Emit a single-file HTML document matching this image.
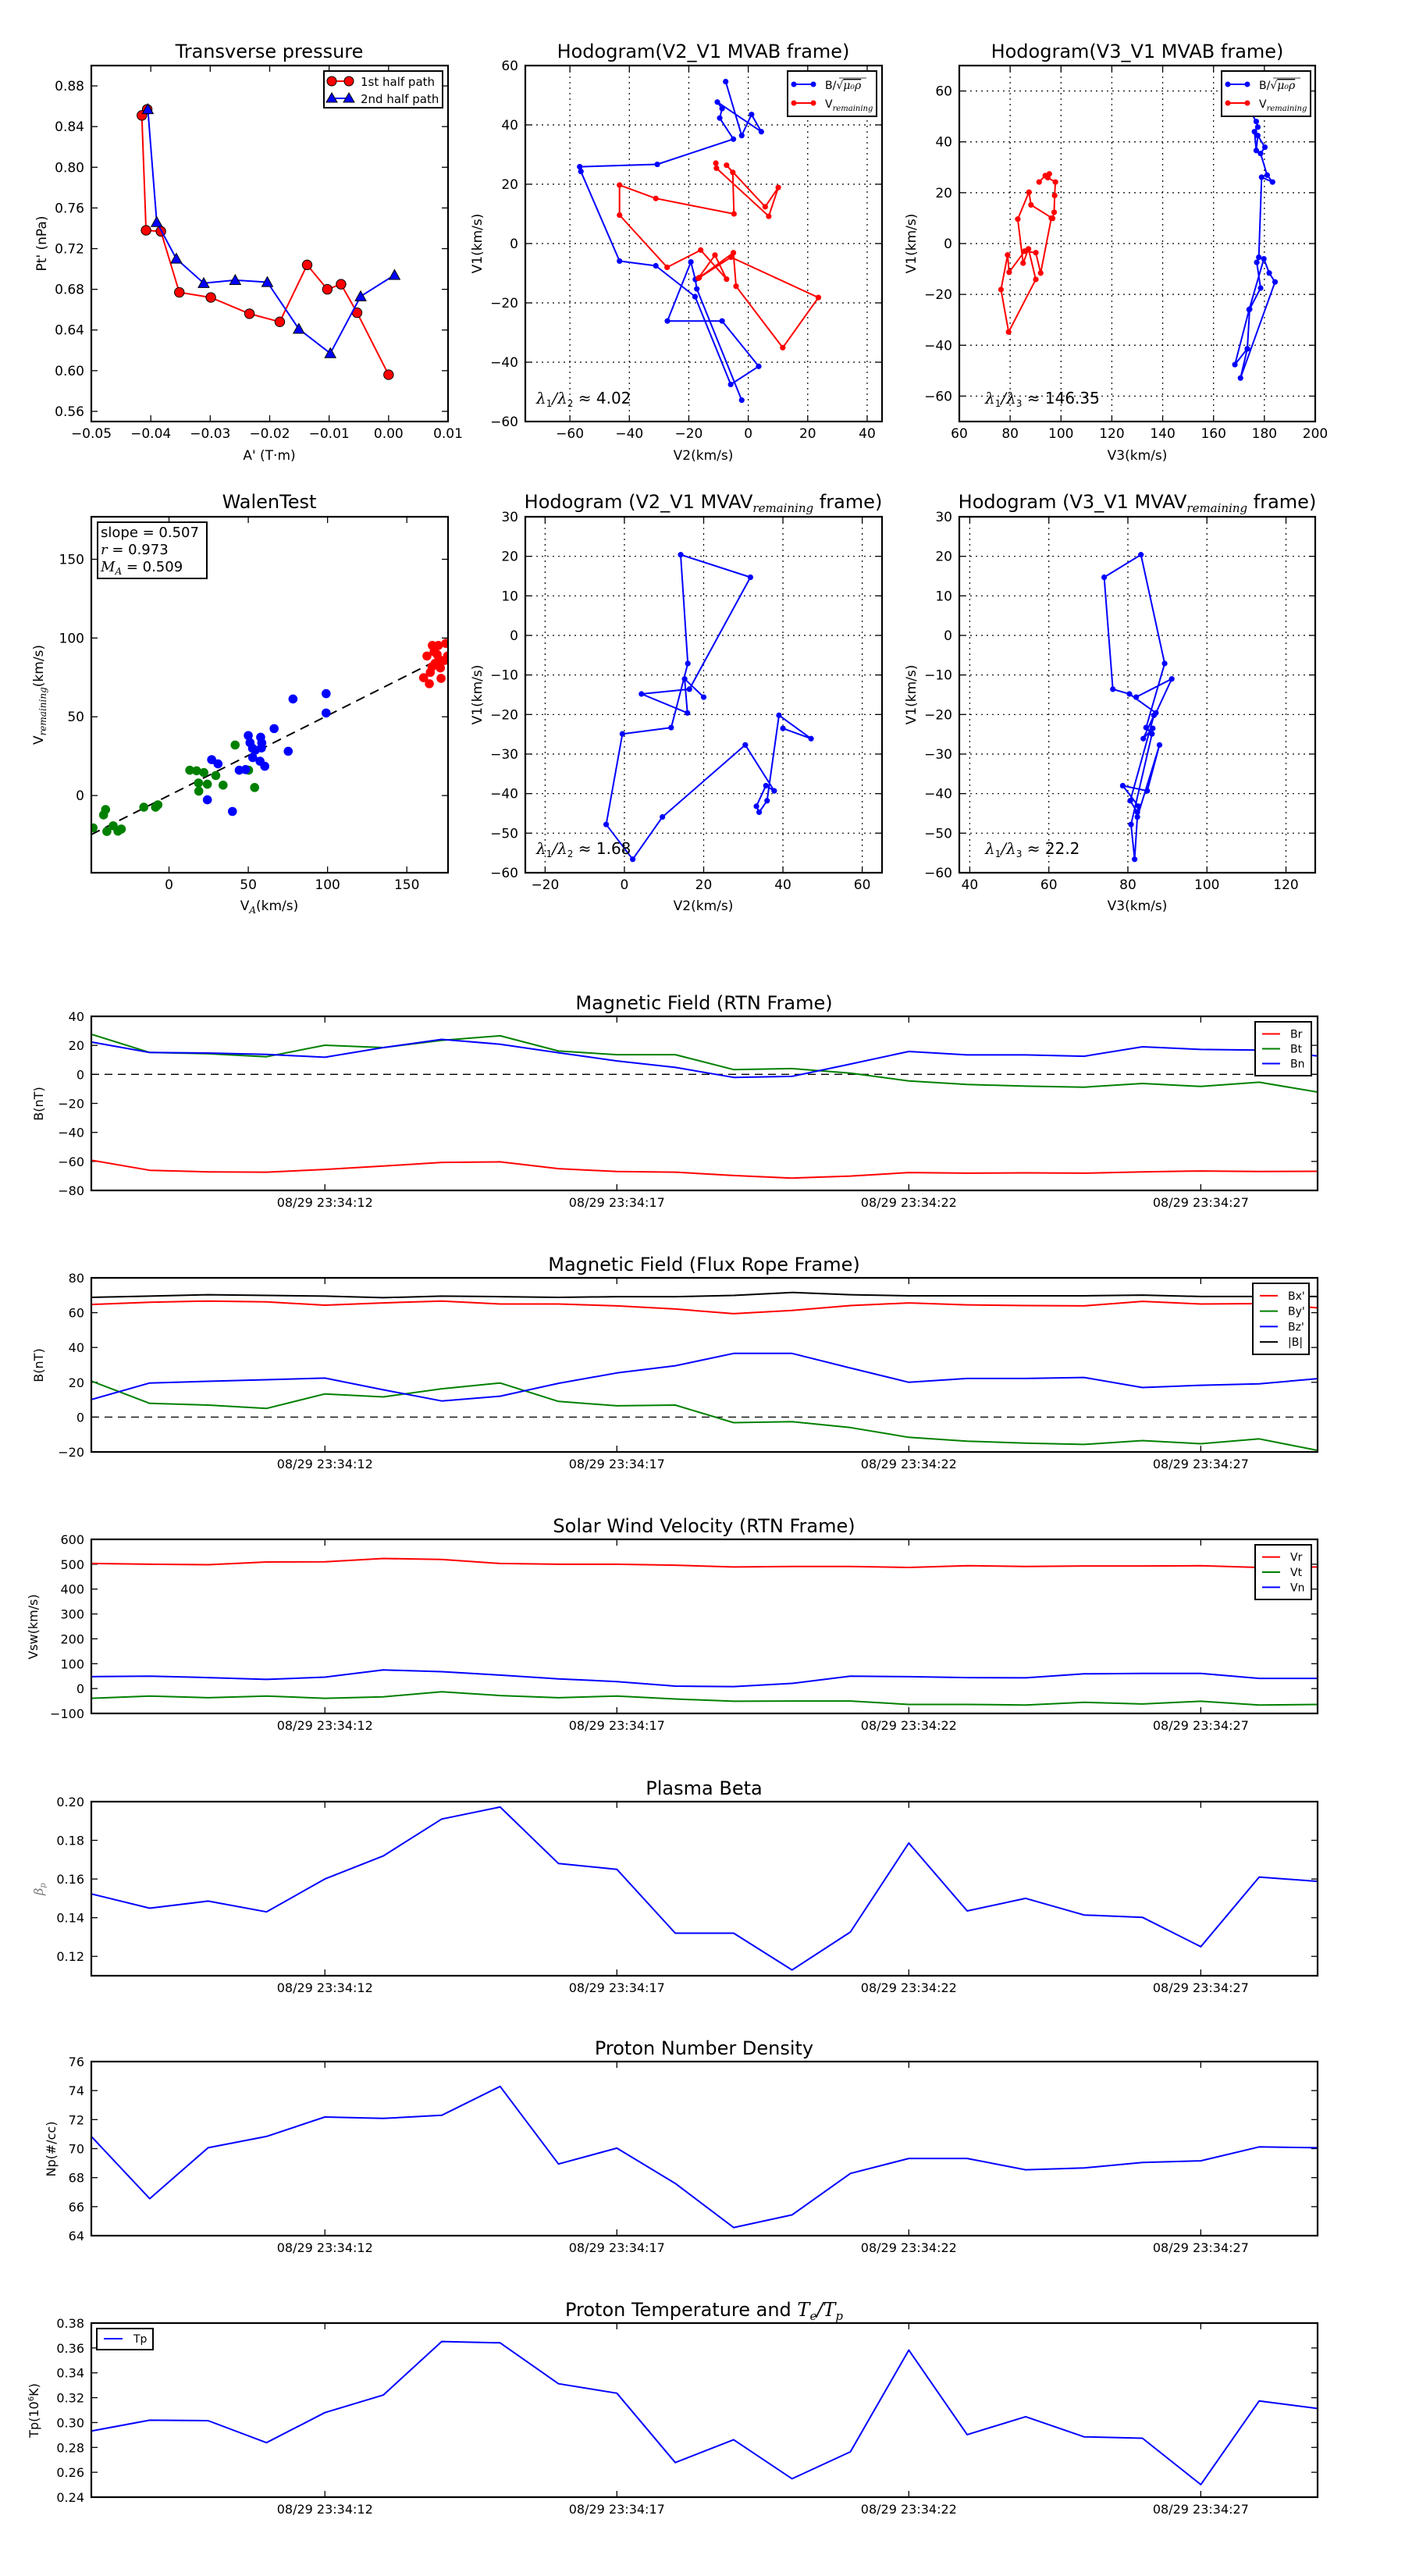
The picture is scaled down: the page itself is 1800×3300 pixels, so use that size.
<!DOCTYPE html>
<html><head><meta charset="utf-8"><title>Flux rope analysis</title>
<style>
html,body{margin:0;padding:0;background:#fff;}
svg{display:block;font-family:"DejaVu Sans","Liberation Sans",sans-serif;}
.m{font-family:"DejaVu Serif","Liberation Serif",serif;font-style:italic;}
</style></head>
<body>
<svg id="fig" xmlns="http://www.w3.org/2000/svg" width="1800" height="3300" viewBox="0 0 1800 3300">
<rect x="0" y="0" width="1800" height="3300" fill="#fff"/>
</svg>
<script>
// ---------- Transverse pressure ----------
const tp1A = [-0.0406,-0.0415,-0.0408,-0.0383,-0.0352,-0.0299,-0.0234,-0.0183,-0.0137,-0.0103,-0.0080,-0.0053,0.0000];
const tp1P = [0.857,0.851,0.738,0.737,0.677,0.672,0.656,0.648,0.704,0.680,0.685,0.657,0.596];
const tp2A = [-0.0405,-0.0390,-0.0357,-0.0311,-0.0258,-0.0204,-0.0151,-0.0098,-0.0047,0.0010];
const tp2P = [0.857,0.746,0.710,0.686,0.689,0.687,0.641,0.617,0.673,0.694];
// ---------- Hodogram V2_V1 MVAB ----------
const hbV2 = [-7.6,-2.2,1.1,4.4,-10.4,-8.8,-9.6,-5,-30.6,-56.7,-56.3,-43.3,-31.1,-17.9,-5.9,3.5,-8.8,-27.2,-19.3,-17.8,-17.3,-2.2];
const hbV1 = [54.6,36.4,43.5,37.7,47.7,45.5,42.3,35.2,26.7,25.9,24.3,-5.9,-7.5,-17.9,-47.5,-41.4,-26.1,-26.1,-6.2,-12.1,-15.3,-52.8];
const hvV2 = [-10.9,-10.7,6.9,10.1,5.7,-7.3,-5.2,-4.8,-31.1,-43.3,-43.3,-27.3,-16,-7.3,-11.2,-16.8,-5.8,23.6,11.6,-4.1,-5,-16.5];
const hvV1 = [27.1,25.4,9.2,18.9,12.4,26.4,24,10,15.2,19.7,9.6,-8,-2.2,-12,-3.9,-11.7,-4.6,-18.2,-35.1,-14.4,-3.1,-11.5];
// ---------- Hodogram V3_V1 MVAB ----------
const hb3V3 = [171,176.8,177.4,176.1,176.8,177.4,180.2,178.5,181.1,183.2,178.9,177.8,177,178.5,174.2,173.3,170.6,184.2,181.9,179.8,174,168.4,173.3];
const hb3V1 = [58,48,45.8,44,36.6,42.5,37.9,35.4,26.9,24.2,26.1,-5.4,-7.4,-17.5,-25.8,-41.4,-52.9,-15.1,-11.6,-6,-26,-47.6,-41.4];
const hv3V3 = [91.4,93.8,95.4,94.8,97.8,97.5,97.3,96.7,88.2,87.4,83,85.1,87.2,90.1,79.4,76.4,79,79.6,85.7,90.1,92,96.2];
const hv3V1 = [24.2,26.7,27.4,25.9,24.2,18.9,12.3,9.9,15.2,20.2,9.6,-7.7,-2.1,-14.1,-34.8,-18.1,-4.5,-11.3,-3,-3.6,-11.6,10];
// ---------- Walen test ----------
const walGreenVA = [-47.9,-41.3,-40,-39.2,-35.2,-32.2,-30.1,-15.9,-8.5,-7,13.1,17.4,22,18.6,18.8,24.2,29.5,34.1,41.7,50.2,54];
const walGreenVR = [-20.5,-12.3,-8.9,-22.8,-19.2,-22.6,-21.3,-7.4,-7.4,-5.9,16.1,15.7,14.6,8,2.8,7.2,12.7,6.6,32.1,16.1,5.1];
const walBlueVA = [24.2,26.9,30.9,40,44.3,48.3,50,51.1,52.7,52.8,54.4,57.8,58.5,58.3,57.4,60.4,66.3,75.2,78.2,99.1,99.1];
const walBlueVR = [-2.7,22.8,20.1,-10.1,16.1,16.5,38.1,33.6,30,24.1,28.8,37,33.4,30.2,21.8,18.6,42.5,28.1,61.3,64.7,52.4];
const walRedVA = [160.6,164.2,162.7,166.1,169.9,174.6,164.8,167.8,171.2,171.6,169.1,173.9,167.2,170.3,165.9,175.7];
const walRedVR = [74.8,71,88.6,95.3,95.3,96.6,78.2,83.9,81,74.4,89.6,85.8,91.3,86.5,81.8,88.6];
const walSlope = [0.507];
const walStats = ["slope = 0.507","0.973","0.509"];
// ---------- MVAV hodograms ----------
const mvV1 = [-15.6,-11,-19.6,-14.8,-13.6,14.7,20.4,-7.1,-23.3,-24.9,-47.8,-56.6,-45.9,-27.7,-39.3,-38,-43.2,-44.7,-41.8,-20.2,-26.1,-23.5];
const mvV2 = [20,15.2,15.9,4.3,16.4,31.8,14.2,16,11.8,-0.5,-4.6,2.1,9.6,30.5,37.8,35.7,33.3,34,36,39,47.1,40];
const mvV3 = [82.1,91.1,87.1,80.4,76.2,74,83.3,89.3,84.6,86.1,80.8,81.7,82.4,88,84.9,78.7,82.7,82.4,80.6,86.6,83.9,86.3];
const ratios = ["4.02","146.35","1.68","22.2"];
// ---------- Time series (seconds after 23:34:00) ----------
const timeSec = [8,9,10,11,12,13,14,15,16,17,18,19,20,21,22,23,24,25,26,27,28,29];
const timeTickSec = [12,17,22,27];
const timeTickLabels = ["08/29 23:34:12","08/29 23:34:17","08/29 23:34:22","08/29 23:34:27"];
const Br = [-59.2,-66.1,-67.2,-67.4,-65.5,-63.2,-60.7,-60.3,-65,-67,-67.4,-69.7,-71.5,-70.1,-67.7,-68.1,-67.9,-68.1,-67.2,-66.6,-67,-66.8];
const Bt = [27.7,15.1,14.2,12.2,20.1,18.5,23.4,26.6,16.1,13.6,13.6,3.3,4,0.8,-4.5,-7,-8.1,-8.8,-6.3,-8.3,-5.4,-12.2];
const Bn = [22.3,15.1,14.7,13.8,11.8,18.5,24.1,20.8,14.9,9.3,4.8,-2.1,-1.4,7.1,15.8,13.4,13.4,12.5,19,17.2,16.7,12.7];
const Bx1 = [64.7,66,66.7,66.2,64.3,65.6,66.7,65,65,63.9,62.1,59.4,61.3,64.1,65.6,64.5,64.1,63.9,66.5,65,65.2,62.8];
const By1 = [20.7,7.9,6.9,5,13.3,11.6,16.3,19.6,9,6.5,6.9,-3.2,-2.6,-6,-11.6,-13.8,-15,-15.7,-13.5,-15.3,-12.5,-19.1];
const Bz1 = [10.1,19.6,20.6,21.5,22.4,15.7,9.3,12,19.4,25.4,29.5,36.6,36.6,28.2,20,22.2,22.2,22.8,17,18.3,19.1,22.1];
const Bmag = [68.8,69.5,70.3,69.9,69.5,68.6,69.5,69.2,68.8,69.2,69.2,69.9,71.6,70.3,69.7,69.7,69.7,69.7,70.1,69.3,69.3,69.3];
const Vr = [503,500,498,509,510,523,519,503,500,500,496,489,491,491,487,494,491,493,493,494,487,489];
const Vt = [-39,-30,-37,-30,-39,-33,-13,-28,-37,-30,-42,-51,-50,-50,-64,-64,-66,-55,-62,-51,-66,-64];
const Vn = [48,50,44,37,46,75,68,54,39,28,10,8,21,50,48,44,43,59,61,61,41,41];
const betaP = [0.1523,0.1449,0.1486,0.143,0.160,0.1719,0.191,0.1972,0.168,0.165,0.132,0.132,0.113,0.1326,0.1786,0.1435,0.150,0.1414,0.1402,0.125,0.161,0.1588];
const Np = [70.84,66.55,70.06,70.84,72.18,72.08,72.3,74.29,68.94,70.03,67.6,64.56,65.43,68.29,69.32,69.32,68.54,68.67,69.04,69.16,70.12,70.06];
const Tp = [0.2932,0.3019,0.3015,0.2838,0.308,0.3221,0.3652,0.3641,0.3312,0.3236,0.2678,0.2862,0.2548,0.2765,0.3583,0.2903,0.3047,0.2885,0.2874,0.2501,0.3174,0.3113];

const NS = "http://www.w3.org/2000/svg";
const fig = document.getElementById('fig');
let clipId = 0;
function mk(tag, parent, o){
  const e = document.createElementNS(NS, tag);
  for (const k in o) e.setAttribute(k, o[k]);
  parent.appendChild(e);
  return e;
}
function txt(parent, x, y, s, size, anchor, name){
  const t = mk('text', parent, {x:x, y:y, 'font-size':size, 'text-anchor':anchor||'middle', fill:'#000'});
  t.textContent = s;
  
  
  return t;
}
function fmtNum(v, d){ const s = Math.abs(v).toFixed(d); return (v < -1e-12 ? '\u2212' : '') + s; }

function makeAxes(c){
  const g = mk('g', fig, {});
  
  
  const sx = v => c.x + (v - c.xmin) / (c.xmax - c.xmin) * c.w;
  const sy = v => c.y + c.h - (v - c.ymin) / (c.ymax - c.ymin) * c.h;
  const fs = c.fs || 17;
  if (c.grid) {
    const gg = mk('g', g, {stroke:'#000','stroke-width':1.2,'stroke-dasharray':'2,5'});
    
    
    c.xticks.forEach(v => mk('line', gg, {x1:sx(v), x2:sx(v), y1:c.y, y2:c.y+c.h}));
    c.yticks.forEach(v => mk('line', gg, {y1:sy(v), y2:sy(v), x1:c.x, x2:c.x+c.w}));
  }
  const tg = mk('g', g, {stroke:'#000','stroke-width':1.3});
  
  
  c.xticks.forEach((v, i) => {
    const X = sx(v);
    mk('line', tg, {x1:X, x2:X, y1:c.y+c.h, y2:c.y+c.h-8});
    mk('line', tg, {x1:X, x2:X, y1:c.y, y2:c.y+8});
    const lab = c.xlabels ? c.xlabels[i] : fmtNum(v, c.xdec||0);
    txt(g, X, c.y + c.h + 21, lab, c.tfs || fs, 'middle', 'x-tick-label');
  });
  c.yticks.forEach(v => {
    const Y = sy(v);
    mk('line', tg, {y1:Y, y2:Y, x1:c.x, x2:c.x+8});
    mk('line', tg, {y1:Y, y2:Y, x1:c.x+c.w, x2:c.x+c.w-8});
    txt(g, c.x - 9, Y + 6, fmtNum(v, c.ydec||0), c.tfs || fs, 'end', 'y-tick-label');
  });
  const id = 'clip' + (clipId++);
  const cp = mk('clipPath', g, {id:id});
  mk('rect', cp, {x:c.x, y:c.y, width:c.w, height:c.h});
  const data = mk('g', g, {'clip-path':'url(#'+id+')'});
  
  
  return {g, data, sx, sy, c};
}
function frame(a){
  const r = mk('rect', a.g, {x:a.c.x, y:a.c.y, width:a.c.w, height:a.c.h, fill:'none', stroke:'#000', 'stroke-width':2.2});
  
  
}
function polyline(a, xs, ys, color, name, w){
  const pts = xs.map((v, i) => a.sx(v).toFixed(1) + ',' + a.sy(ys[i]).toFixed(1)).join(' ');
  const p = mk('polyline', a.data, {points:pts, fill:'none', stroke:color, 'stroke-width':w||2, 'stroke-linejoin':'round'});
  
  
  return p;
}
function dots(a, xs, ys, color, r, name, edge){
  xs.forEach((v, i) => {
    const d = mk('circle', a.data, {cx:a.sx(v), cy:a.sy(ys[i]), r:r, fill:color});
    if (edge) { d.setAttribute('stroke', '#000'); d.setAttribute('stroke-width', 1); }
    
    
  });
}
function tris(a, xs, ys, color, s, name){
  xs.forEach((v, i) => {
    const X = a.sx(v), Y = a.sy(ys[i]);
    const t = mk('polygon', a.data, {points:`${X},${Y-s} ${X-s},${Y+s*0.8} ${X+s},${Y+s*0.8}`, fill:color, stroke:'#000', 'stroke-width':1});
    
    
  });
}
function ylab(parent, x, y, s, size, name){
  const t = txt(parent, 0, 0, s, size, 'middle', name);
  t.setAttribute('transform', `translate(${x},${y}) rotate(-90)`);
  return t;
}
function range(a, b, s){ const r=[]; for (let v=a; v<=b+1e-9; v+=s) r.push(Math.round(v*1000)/1000); return r; }

// ===== Row 1 =====
// Transverse pressure
const ax1 = makeAxes({name:'transverse-pressure-chart', x:117, y:84, w:457, h:456, xmin:-0.05, xmax:0.01, ymin:0.55, ymax:0.90,
  xticks:range(-0.05,0.01,0.01), yticks:range(0.56,0.88,0.04), xdec:2, ydec:2});
polyline(ax1, tp1A, tp1P, '#ff0000', 'first-half-path-line');
dots(ax1, tp1A, tp1P, '#ff0000', 6.2, 'first-half-point', true);
polyline(ax1, tp2A, tp2P, '#0000ff', 'second-half-path-line');
tris(ax1, tp2A, tp2P, '#0000ff', 7, 'second-half-point');
frame(ax1);
txt(ax1.g, 345, 74, 'Transverse pressure', 24, 'middle', 'chart-title');
txt(ax1.g, 345, 589, "A' (T\u00b7m)", 17, 'middle', 'x-axis-title');
ylab(ax1.g, 59, 312, "Pt' (nPa)", 17, 'y-axis-title');
{
  const lg = mk('g', ax1.g, {});
  
  
  mk('rect', lg, {x:415, y:91, width:152, height:47, fill:'#fff', stroke:'#000', 'stroke-width':2});
  mk('line', lg, {x1:425, x2:447, y1:104, y2:104, stroke:'#ff0000', 'stroke-width':2});
  mk('circle', lg, {cx:425, cy:104, r:6, fill:'#ff0000', stroke:'#000'});
  mk('circle', lg, {cx:447, cy:104, r:6, fill:'#ff0000', stroke:'#000'});
  txt(lg, 462, 110, '1st half path', 15, 'start', 'legend-entry-1st-half');
  mk('line', lg, {x1:425, x2:447, y1:126, y2:126, stroke:'#0000ff', 'stroke-width':2});
  mk('polygon', lg, {points:'425,119 418,131 432,131', fill:'#0000ff', stroke:'#000'});
  mk('polygon', lg, {points:'447,119 440,131 454,131', fill:'#0000ff', stroke:'#000'});
  txt(lg, 462, 132, '2nd half path', 15, 'start', 'legend-entry-2nd-half');
}

function hodoLegend(parent, x0, y0){
  const lg = mk('g', parent, {});
  
  
  mk('rect', lg, {x:x0, y:y0, width:114, height:58, fill:'#fff', stroke:'#000', 'stroke-width':2});
  mk('line', lg, {x1:x0+8, x2:x0+33, y1:y0+17, y2:y0+17, stroke:'#0000ff', 'stroke-width':2});
  mk('circle', lg, {cx:x0+8, cy:y0+17, r:3.5, fill:'#0000ff'});
  mk('circle', lg, {cx:x0+33, cy:y0+17, r:3.5, fill:'#0000ff'});
  const t1 = txt(lg, x0+48, y0+23, 'B/\u221a', 14, 'start', 'legend-entry-b-alfven');
  const ts = mk('tspan', t1, {class:'m', 'text-decoration':'overline'}); ts.textContent = '\u03bc\u2080\u03c1';
  mk('line', lg, {x1:x0+66, x2:x0+101, y1:y0+9, y2:y0+9, stroke:'#000', 'stroke-width':0.8});
  mk('line', lg, {x1:x0+8, x2:x0+33, y1:y0+41, y2:y0+41, stroke:'#ff0000', 'stroke-width':2});
  mk('circle', lg, {cx:x0+8, cy:y0+41, r:3.5, fill:'#ff0000'});
  mk('circle', lg, {cx:x0+33, cy:y0+41, r:3.5, fill:'#ff0000'});
  const t2 = txt(lg, x0+48, y0+47, 'V', 14, 'start', 'legend-entry-v-remaining');
  const s2 = mk('tspan', t2, {class:'m', 'font-size':10, dy:4}); s2.textContent = 'remaining';
}
function ratioText(parent, x, y, sub2, val){
  const t = txt(parent, x, y, '', 20, 'start', 'eigenvalue-ratio-annotation');
  const a = mk('tspan', t, {class:'m'}); a.textContent = '\u03bb';
  const b = mk('tspan', t, {'font-size':12, dy:4}); b.textContent = '1';
  const c = mk('tspan', t, {class:'m', dy:-4}); c.textContent = '/\u03bb';
  const d = mk('tspan', t, {'font-size':12, dy:4}); d.textContent = sub2;
  const e = mk('tspan', t, {dy:-4}); e.textContent = ' \u2248 ' + val;
}

// Hodogram V2_V1 MVAB
const ax2 = makeAxes({name:'hodogram-v2-v1-mvab-chart', x:673, y:84, w:457, h:456, xmin:-75, xmax:45, ymin:-60, ymax:60,
  xticks:range(-60,40,20), yticks:range(-60,60,20), grid:true});
polyline(ax2, hbV2, hbV1, '#0000ff', 'b-alfven-path');
dots(ax2, hbV2, hbV1, '#0000ff', 3.6, 'b-alfven-point');
polyline(ax2, hvV2, hvV1, '#ff0000', 'v-remaining-path');
dots(ax2, hvV2, hvV1, '#ff0000', 3.6, 'v-remaining-point');
frame(ax2);
hodoLegend(ax2.g, 1009, 91);
ratioText(ax2.g, 687, 517, '2', ratios[0]);
txt(ax2.g, 901, 74, 'Hodogram(V2_V1 MVAB frame)', 24, 'middle', 'chart-title');
txt(ax2.g, 901, 589, 'V2(km/s)', 17, 'middle', 'x-axis-title');
ylab(ax2.g, 617, 312, 'V1(km/s)', 17, 'y-axis-title');

// Hodogram V3_V1 MVAB
const ax3 = makeAxes({name:'hodogram-v3-v1-mvab-chart', x:1229, y:84, w:456, h:456, xmin:60, xmax:200, ymin:-70, ymax:70,
  xticks:range(60,200,20), yticks:range(-60,60,20), grid:true});
polyline(ax3, hb3V3, hb3V1, '#0000ff', 'b-alfven-path');
dots(ax3, hb3V3, hb3V1, '#0000ff', 3.6, 'b-alfven-point');
polyline(ax3, hv3V3, hv3V1, '#ff0000', 'v-remaining-path');
dots(ax3, hv3V3, hv3V1, '#ff0000', 3.6, 'v-remaining-point');
frame(ax3);
hodoLegend(ax3.g, 1565, 91);
ratioText(ax3.g, 1262, 517, '3', ratios[1]);
txt(ax3.g, 1457, 74, 'Hodogram(V3_V1 MVAB frame)', 24, 'middle', 'chart-title');
txt(ax3.g, 1457, 589, 'V3(km/s)', 17, 'middle', 'x-axis-title');
ylab(ax3.g, 1173, 312, 'V1(km/s)', 17, 'y-axis-title');

// ===== Row 2 =====
const ax4 = makeAxes({name:'walen-test-chart', x:117, y:662, w:457, h:456, xmin:-49, xmax:176, ymin:-49, ymax:177,
  xticks:[0,50,100,150], yticks:[0,50,100,150]});
{
  const lx = [-49, 176];
  const ly = lx.map(v => walSlope[0]*v + 0.1);
  const l = polyline(ax4, lx, ly, '#000', 'walen-fit-line', 2);
  l.setAttribute('stroke-dasharray', '12,8');
}
dots(ax4, walGreenVA, walGreenVR, '#008000', 5.8, 'walen-point-green');
dots(ax4, walBlueVA, walBlueVR, '#0000ff', 5.8, 'walen-point-blue');
dots(ax4, walRedVA, walRedVR, '#ff0000', 5.8, 'walen-point-red');
frame(ax4);
{
  const bg = mk('g', ax4.g, {});
  
  
  mk('rect', bg, {x:125, y:669, width:140, height:72, fill:'#fff', stroke:'#000', 'stroke-width':2});
  txt(bg, 129, 688, walStats[0], 18, 'start', 'slope-text');
  const t2 = txt(bg, 129, 710, '', 18, 'start', 'correlation-text');
  const a = mk('tspan', t2, {class:'m'}); a.textContent = 'r';
  const b = mk('tspan', t2, {}); b.textContent = ' = ' + walStats[1];
  const t3 = txt(bg, 129, 732, '', 18, 'start', 'alfven-mach-text');
  const c = mk('tspan', t3, {class:'m'}); c.textContent = 'M';
  const d = mk('tspan', t3, {class:'m', 'font-size':12, dy:4}); d.textContent = 'A';
  const e = mk('tspan', t3, {dy:-4}); e.textContent = ' = ' + walStats[2];
}
txt(ax4.g, 345, 651, 'WalenTest', 24, 'middle', 'chart-title');
{
  const t = txt(ax4.g, 345, 1166, 'V', 17, 'middle', 'x-axis-title');
  const s = mk('tspan', t, {class:'m', 'font-size':12, dy:4}); s.textContent = 'A';
  const r = mk('tspan', t, {dy:-4}); r.textContent = '(km/s)';
  const y = ylab(ax4.g, 55, 890, 'V', 17, 'y-axis-title');
  const s2 = mk('tspan', y, {class:'m', 'font-size':12, dy:4}); s2.textContent = 'remaining';
  const r2 = mk('tspan', y, {dy:-4}); r2.textContent = '(km/s)';
}

function mvavTitle(parent, x, which){
  const t = txt(parent, x, 651, 'Hodogram (' + which + ' MVAV', 24, 'middle', 'chart-title');
  const s = mk('tspan', t, {class:'m', 'font-size':15, dy:5}); s.textContent = 'remaining';
  const r = mk('tspan', t, {dy:-5}); r.textContent = ' frame)';
}
const ax5 = makeAxes({name:'hodogram-v2-v1-mvav-chart', x:673, y:662, w:457, h:456, xmin:-25, xmax:65, ymin:-60, ymax:30,
  xticks:range(-20,60,20), yticks:range(-60,30,10), grid:true});
polyline(ax5, mvV2, mvV1, '#0000ff', 'mvav-path');
dots(ax5, mvV2, mvV1, '#0000ff', 3.6, 'mvav-point');
frame(ax5);
ratioText(ax5.g, 687, 1094, '2', ratios[2]);
mvavTitle(ax5.g, 901, 'V2_V1');
txt(ax5.g, 901, 1166, 'V2(km/s)', 17, 'middle', 'x-axis-title');
ylab(ax5.g, 617, 890, 'V1(km/s)', 17, 'y-axis-title');

const ax6 = makeAxes({name:'hodogram-v3-v1-mvav-chart', x:1229, y:662, w:456, h:456, xmin:37.35, xmax:127.4, ymin:-60, ymax:30,
  xticks:range(40,120,20), yticks:range(-60,30,10), grid:true});
polyline(ax6, mvV3, mvV1, '#0000ff', 'mvav-path');
dots(ax6, mvV3, mvV1, '#0000ff', 3.6, 'mvav-point');
frame(ax6);
ratioText(ax6.g, 1262, 1094, '3', ratios[3]);
mvavTitle(ax6.g, 1457, 'V3_V1');
txt(ax6.g, 1457, 1166, 'V3(km/s)', 17, 'middle', 'x-axis-title');
ylab(ax6.g, 1173, 890, 'V1(km/s)', 17, 'y-axis-title');

// ===== Time series =====
function tsAxes(name, top, ymin, ymax, yticks, ydec){
  return makeAxes({name:name, x:117, y:top, w:1571, h:223, xmin:8, xmax:29, ymin:ymin, ymax:ymax,
    xticks:timeTickSec, xlabels:timeTickLabels, yticks:yticks, ydec:ydec, tfs:16});
}
function tsLegend(parent, x0, y0, names, colors, h){
  const lg = mk('g', parent, {});
  
  
  mk('rect', lg, {x:x0, y:y0, width:72, height:h, fill:'#fff', stroke:'#000', 'stroke-width':2});
  const step = (h - 12) / names.length;
  names.forEach((n, i) => {
    const Y = y0 + 6 + step*(i+0.5);
    mk('line', lg, {x1:x0+9, x2:x0+32, y1:Y, y2:Y, stroke:colors[i], 'stroke-width':2});
    txt(lg, x0+45, Y+5, n, 14, 'start', 'legend-entry');
  });
}
function zeroLine(a){
  const l = polyline(a, [8, 29], [0, 0], '#000', 'zero-reference-line', 1.3);
  l.setAttribute('stroke-dasharray', '10,7');
}
const TOPS = [1302, 1637, 1972, 2308, 2641, 2976];

const axB = tsAxes('magnetic-field-rtn-chart', TOPS[0], -80, 40, range(-80,40,20), 0);
zeroLine(axB);
polyline(axB, timeSec, Br, '#ff0000', 'br-line');
polyline(axB, timeSec, Bt, '#008000', 'bt-line');
polyline(axB, timeSec, Bn, '#0000ff', 'bn-line');
frame(axB);
tsLegend(axB.g, 1608, 1309, ['Br','Bt','Bn'], ['#ff0000','#008000','#0000ff'], 69);
txt(axB.g, 902, TOPS[0]-9, 'Magnetic Field (RTN Frame)', 24, 'middle', 'chart-title');
ylab(axB.g, 55, TOPS[0]+112, 'B(nT)', 16, 'y-axis-title');

const axF = tsAxes('magnetic-field-flux-rope-chart', TOPS[1], -20, 80, range(-20,80,20), 0);
zeroLine(axF);
polyline(axF, timeSec, Bx1, '#ff0000', 'bx-prime-line');
polyline(axF, timeSec, By1, '#008000', 'by-prime-line');
polyline(axF, timeSec, Bz1, '#0000ff', 'bz-prime-line');
polyline(axF, timeSec, Bmag, '#000000', 'b-magnitude-line');
frame(axF);
tsLegend(axF.g, 1605, 1644, ["Bx'","By'","Bz'","|B|"], ['#ff0000','#008000','#0000ff','#000'], 91);
txt(axF.g, 902, TOPS[1]-9, 'Magnetic Field (Flux Rope Frame)', 24, 'middle', 'chart-title');
ylab(axF.g, 55, TOPS[1]+112, 'B(nT)', 16, 'y-axis-title');

const axV = tsAxes('solar-wind-velocity-chart', TOPS[2], -100, 600, range(-100,600,100), 0);
polyline(axV, timeSec, Vr, '#ff0000', 'vr-line');
polyline(axV, timeSec, Vt, '#008000', 'vt-line');
polyline(axV, timeSec, Vn, '#0000ff', 'vn-line');
frame(axV);
tsLegend(axV.g, 1608, 1979, ['Vr','Vt','Vn'], ['#ff0000','#008000','#0000ff'], 70);
txt(axV.g, 902, TOPS[2]-9, 'Solar Wind Velocity (RTN Frame)', 24, 'middle', 'chart-title');
ylab(axV.g, 48, TOPS[2]+112, 'Vsw(km/s)', 16, 'y-axis-title');

const axBeta = tsAxes('plasma-beta-chart', TOPS[3], 0.11, 0.20, range(0.12,0.20,0.02), 2);
polyline(axBeta, timeSec, betaP, '#0000ff', 'beta-line');
frame(axBeta);
txt(axBeta.g, 902, TOPS[3]-9, 'Plasma Beta', 24, 'middle', 'chart-title');
{
  const y = ylab(axBeta.g, 55, TOPS[3]+112, '', 16, 'y-axis-title');
  y.setAttribute('fill', '#777');
  const a = mk('tspan', y, {class:'m'}); a.textContent = '\u03b2';
  const b = mk('tspan', y, {class:'m', 'font-size':10, dy:3}); b.textContent = 'p';
}

const axN = tsAxes('proton-density-chart', TOPS[4], 64, 76, range(64,76,2), 0);
polyline(axN, timeSec, Np, '#0000ff', 'density-line');
frame(axN);
txt(axN.g, 902, TOPS[4]-9, 'Proton Number Density', 24, 'middle', 'chart-title');
ylab(axN.g, 71, TOPS[4]+112, 'Np(#/cc)', 16, 'y-axis-title');

const axT = tsAxes('proton-temperature-chart', TOPS[5], 0.24, 0.38, range(0.24,0.38,0.02), 2);
polyline(axT, timeSec, Tp, '#0000ff', 'temperature-line');
frame(axT);
{
  const lg = mk('g', axT.g, {});
  
  
  mk('rect', lg, {x:124, y:2983, width:72, height:27, fill:'#fff', stroke:'#000', 'stroke-width':2});
  mk('line', lg, {x1:133, x2:157, y1:2996, y2:2996, stroke:'#0000ff', 'stroke-width':2});
  txt(lg, 171, 3001, 'Tp', 14, 'start', 'legend-entry-tp');
  const t = txt(axT.g, 902, TOPS[5]-9, 'Proton Temperature and ', 24, 'middle', 'chart-title');
  const a = mk('tspan', t, {class:'m'}); a.textContent = 'T';
  const b = mk('tspan', t, {class:'m', 'font-size':15, dy:5}); b.textContent = 'e';
  const c = mk('tspan', t, {class:'m', dy:-5}); c.textContent = '/T';
  const d = mk('tspan', t, {class:'m', 'font-size':15, dy:5}); d.textContent = 'p';
  const y = ylab(axT.g, 49, TOPS[5]+112, 'Tp(10', 16, 'y-axis-title');
  const e = mk('tspan', y, {'font-size':10, dy:-6}); e.textContent = '6';
  const f = mk('tspan', y, {dy:6}); f.textContent = 'K)';
}
</script>
</body></html>
